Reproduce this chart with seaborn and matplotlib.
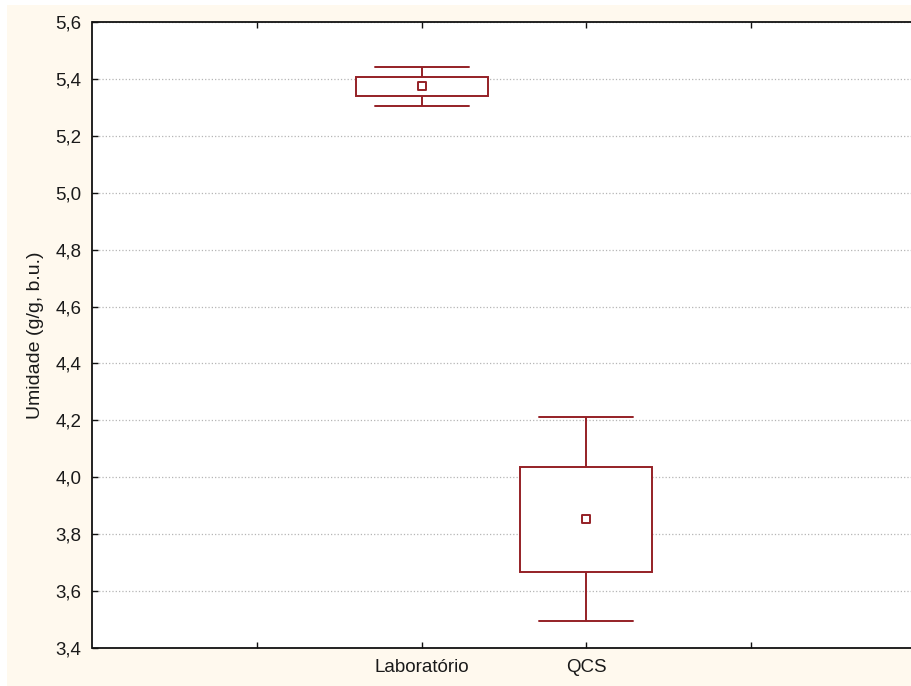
import numpy as np
import pandas as pd
import matplotlib
matplotlib.use("Agg")
import matplotlib.pyplot as plt
from matplotlib.patches import Rectangle
from matplotlib.ticker import FuncFormatter
import seaborn as sns

# ---- data ----
categories = ["Laboratório", "QCS"]
whisker_low = [5.305, 3.496]
box_low = [5.340, 3.667]
center = [5.375, 3.853]
box_high = [5.407, 4.036]
whisker_high = [5.442, 4.213]
y_ticks = [3.4, 3.6, 3.8, 4.0, 4.2, 4.4, 4.6, 4.8, 5.0, 5.2, 5.4, 5.6]
x_tick_labels = ["", "Laboratório", "QCS", ""]
y_label = "Umidade (g/g, b.u.)"

red = "#952026"

# long table of the five summary values per group (min, q1, centre, q3, max)
rows = []
for i, c in enumerate(categories):
    for v in (whisker_low[i], box_low[i], center[i], box_high[i], whisker_high[i]):
        rows.append({"grupo": c, "valor": v})
df = pd.DataFrame(rows)
df_center = pd.DataFrame({"grupo": categories, "valor": center})

sns.set_theme(style="white")
plt.rcParams["font.family"] = ["Liberation Sans", "DejaVu Sans"]
plt.rcParams["font.size"] = 13.5

fig = plt.figure(figsize=(9.12, 6.86), dpi=100, facecolor="white")
fig.patches.append(Rectangle((7 / 912, 0), 1, 681 / 686, transform=fig.transFigure,
                             facecolor="#FFF9EE", edgecolor="none", zorder=-10))
ax = fig.add_axes([92.5 / 912, 38 / 686, 823 / 912, 626 / 686])
ax.set_facecolor("white")

sns.boxplot(data=df, x="grupo", y="valor", order=categories, ax=ax,
            whis=(0, 100), width=0.8, color="white", linecolor=red,
            linewidth=1.4, saturation=1, showfliers=False,
            medianprops=dict(visible=False))

# narrower caps like the reference
for ln in ax.lines:
    xd = np.asarray(ln.get_xdata(), dtype=float)
    yd = np.asarray(ln.get_ydata(), dtype=float)
    if len(xd) == 2 and yd[0] == yd[1] and (xd[1] - xd[0]) > 0 and (xd[1] - xd[0]) < 0.7:
        mid = (xd[0] + xd[1]) / 2
        ln.set_xdata([mid - 0.285, mid + 0.285])

sns.stripplot(data=df_center, x="grupo", y="valor", order=categories, ax=ax,
              jitter=False, marker="s", size=6.2, color="white",
              edgecolor=red, linewidth=1.4, zorder=5)

ax.set_xlim(-2, 3)
ax.set_xticks([-1, 0, 1, 2])
ax.set_xticklabels(x_tick_labels)
ax.set_ylim(3.4, 5.6)
ax.set_yticks(y_ticks)
ax.yaxis.set_major_formatter(FuncFormatter(lambda v, p: f"{v:.1f}".replace(".", ",")))

ax.set_axisbelow(True)
ax.yaxis.grid(True, linestyle=":", color="#b5b5b5", linewidth=0.9)
ax.xaxis.grid(False)

ax.set_xlabel("")
ax.set_ylabel(y_label, fontsize=14, labelpad=8, color="#1a1a1a")

for s in ("left", "top", "bottom"):
    ax.spines[s].set_visible(True)
    ax.spines[s].set_color("#111111")
    ax.spines[s].set_linewidth(1.3)
ax.spines["right"].set_visible(False)

ax.tick_params(axis="x", which="both", direction="in", top=True, bottom=True,
               length=4, width=1, color="#111111", pad=8, labelsize=13.5,
               labelcolor="#1a1a1a")
ax.tick_params(axis="y", which="both", direction="in", left=True, right=False,
               length=4, width=1, color="#111111", pad=8, labelsize=13.5,
               labelcolor="#1a1a1a")

fig.savefig("out.png", dpi=100, facecolor=fig.get_facecolor())
